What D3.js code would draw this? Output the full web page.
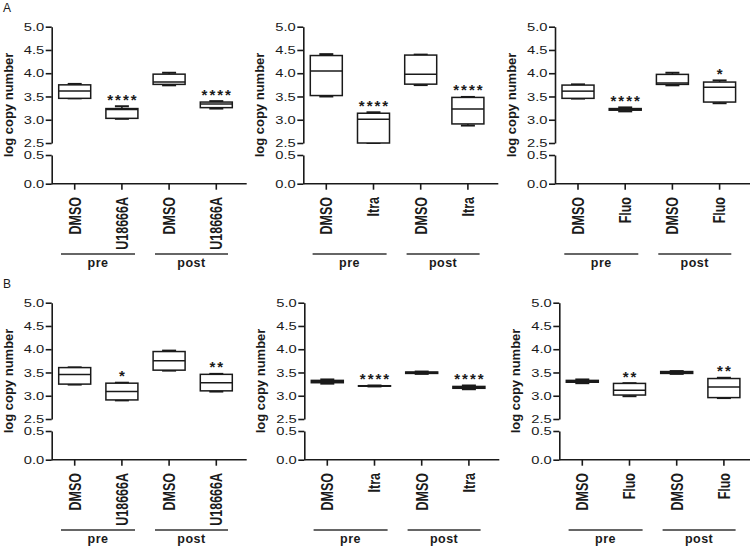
<!DOCTYPE html>
<html><head><meta charset="utf-8">
<script src="https://cdn.jsdelivr.net/npm/d3@7"></script>
<style>
body{margin:0;background:#fff}
text{font-family:"Liberation Sans",Arial,sans-serif;fill:#1a1a1a}
</style>
</head><body><svg id="c" width="750" height="549"></svg>
<script>
// ---------- data ----------
const drugs = ["U18666A", "Itra", "Fluo"];
const groups = ["pre", "post"];
const yTicksUpper = [2.5, 3.0, 3.5, 4.0, 4.5, 5.0];
const yTicksLower = [0.0, 0.5];
// box stats per category: [min, q1, median, q3, max]
const boxA_U18666A = [[3.46,3.46,3.62,3.75,3.77],[3.02,3.03,3.22,3.24,3.29],[3.74,3.76,3.81,3.98,4.01],[3.24,3.26,3.34,3.38,3.40]];
const boxA_Itra    = [[3.50,3.52,4.05,4.38,4.41],[2.49,2.49,3.01,3.14,3.16],[3.745,3.765,3.98,4.39,4.40],[2.875,2.91,3.23,3.48,3.49]];
const boxA_Fluo    = [[3.455,3.46,3.615,3.745,3.76],[3.18,3.205,3.225,3.24,3.265],[3.74,3.76,3.79,3.975,4.01],[3.355,3.38,3.70,3.81,3.845]];
const boxB_U18666A = [[3.24,3.25,3.455,3.605,3.61],[2.90,2.91,3.09,3.27,3.28],[3.54,3.55,3.75,3.95,3.97],[3.09,3.105,3.28,3.46,3.47]];
const boxB_Itra    = [[3.26,3.28,3.30,3.33,3.35],[3.20,3.205,3.21,3.215,3.22],[3.47,3.48,3.50,3.51,3.52],[3.14,3.16,3.18,3.20,3.22]];
const boxB_Fluo    = [[3.27,3.29,3.31,3.33,3.35],[2.99,3.015,3.12,3.265,3.27],[3.47,3.48,3.50,3.52,3.53],[2.95,2.96,3.19,3.37,3.386]];
const sigA_U18666A = ["", "****", "", "****"];
const sigA_Itra    = ["", "****", "", "****"];
const sigA_Fluo    = ["", "****", "", "*"];
const sigB_U18666A = ["", "*", "", "**"];
const sigB_Itra    = ["", "****", "", "****"];
const sigB_Fluo    = ["", "**", "", "**"];

// ---------- layout ----------
const rows = [
  {label: "A", labelY: 12, top: 26.7, lefts: [51.7, 303.3, 555],
   boxes: [boxA_U18666A, boxA_Itra, boxA_Fluo], sigs: [sigA_U18666A, sigA_Itra, sigA_Fluo]},
  {label: "B", labelY: 288, top: 302.7, lefts: [51.7, 304.3, 559.3],
   boxes: [boxB_U18666A, boxB_Itra, boxB_Fluo], sigs: [sigB_U18666A, sigB_Itra, sigB_Fluo]}
];
const INK = "#1a1a1a";
const svg = d3.select("#c");
svg.append("rect").attr("width", 750).attr("height", 549).attr("fill", "#fff");

rows.forEach(row => {
  svg.append("text").attr("x", 3).attr("y", row.labelY).attr("font-size", 12).text(row.label);
  row.lefts.forEach((left, p) => {
    const top = row.top;
    const g = svg.append("g");
    const drug = drugs[p];
    const cats = ["DMSO", drug, "DMSO", drug];
    const yUpper = d3.scaleLinear().domain([2.5, 5]).range([top + 116.3, top]).clamp(true);
    const yLower = d3.scaleLinear().domain([0, 0.5]).range([top + 157, top + 128.3]);
    const y = v => v >= 1 ? yUpper(v) : yLower(v);
    const x = d3.scalePoint().domain(d3.range(cats.length)).range([left + 23, left + 23 + 3 * 47.2]);

    // y axis (broken)
    [[yUpper, yTicksUpper], [yLower, yTicksLower]].forEach(([sc, tv]) => {
      const ax = g.append("g").attr("transform", `translate(${left},0)`)
        .call(d3.axisLeft(sc).tickValues(tv).tickFormat(d3.format(".1f")).tickSize(6).tickSizeOuter(0));
      ax.select(".domain").attr("stroke", INK).attr("stroke-width", 1.6);
      ax.selectAll(".tick line").attr("stroke", INK).attr("stroke-width", 1.6);
      ax.selectAll(".tick text").attr("x", 0).attr("font-size", 11.5).attr("fill", INK)
        .attr("font-family", "'Liberation Sans',Arial,sans-serif")
        .attr("transform", "translate(-7.5,0) scale(1.28,1)");
    });

    // x axis
    const y0 = yLower(0);
    g.append("line").attr("x1", left).attr("x2", left + 195).attr("y1", y0).attr("y2", y0)
      .attr("stroke", INK).attr("stroke-width", 1.6);
    cats.forEach((c, i) => {
      g.append("line").attr("x1", x(i)).attr("x2", x(i)).attr("y1", y0).attr("y2", y0 + 6)
        .attr("stroke", INK).attr("stroke-width", 1.6);
      g.append("text")
        .attr("transform", `translate(${x(i)},${top + 170.3}) scale(1.3,1) rotate(-90)`)
        .attr("text-anchor", "end").attr("dy", "0.36em")
        .attr("font-size", 12.5).attr("font-weight", "bold").text(c);
    });

    // y label
    g.append("text").attr("transform", `translate(${left - 39},${top + 78.3}) rotate(-90)`)
      .attr("text-anchor", "middle").attr("font-size", 13).attr("font-weight", "bold")
      .text("log copy number");

    // boxes
    const bw = 32, cw = 14;
    row.boxes[p].forEach((s, i) => {
      const [mn, q1, md, q3, mx] = s;
      const cx = x(i);
      g.append("line").attr("x1", cx).attr("x2", cx).attr("y1", y(mx)).attr("y2", y(q3))
        .attr("stroke", INK).attr("stroke-width", 1.5);
      g.append("line").attr("x1", cx).attr("x2", cx).attr("y1", y(q1)).attr("y2", y(mn))
        .attr("stroke", INK).attr("stroke-width", 1.5);
      [mx, mn].forEach(v => g.append("line").attr("x1", cx - cw / 2).attr("x2", cx + cw / 2)
        .attr("y1", y(v)).attr("y2", y(v)).attr("stroke", INK).attr("stroke-width", 2));
      g.append("rect").attr("x", cx - bw / 2).attr("width", bw)
        .attr("y", y(q3)).attr("height", Math.max(0.01, y(q1) - y(q3)))
        .attr("fill", "#fff").attr("stroke", INK).attr("stroke-width", 1.5);
      g.append("line").attr("x1", cx - bw / 2).attr("x2", cx + bw / 2).attr("y1", y(md)).attr("y2", y(md))
        .attr("stroke", INK).attr("stroke-width", 1.5);
      const sig = row.sigs[p][i];
      if (sig) {
        g.append("text").attr("x", cx + 1).attr("y", y(mx) - 1.5)
          .attr("text-anchor", "middle").attr("font-size", 15).attr("font-weight", "bold")
          .attr("letter-spacing", 2).text(sig);
      }
    });

    // group brackets
    groups.forEach((gr, k) => {
      const x1 = left + (k === 0 ? 9.3 : 103.3), x2 = left + (k === 0 ? 83.3 : 176.3);
      g.append("line").attr("x1", x1).attr("x2", x2).attr("y1", top + 227.3).attr("y2", top + 227.3)
        .attr("stroke", "#333").attr("stroke-width", 1.6);
      g.append("text").attr("x", (x1 + x2) / 2).attr("y", top + 240.3)
        .attr("text-anchor", "middle").attr("font-size", 12.5).attr("font-weight", "bold")
        .attr("letter-spacing", 0.5).text(gr);
    });
  });
});
</script></body></html>
